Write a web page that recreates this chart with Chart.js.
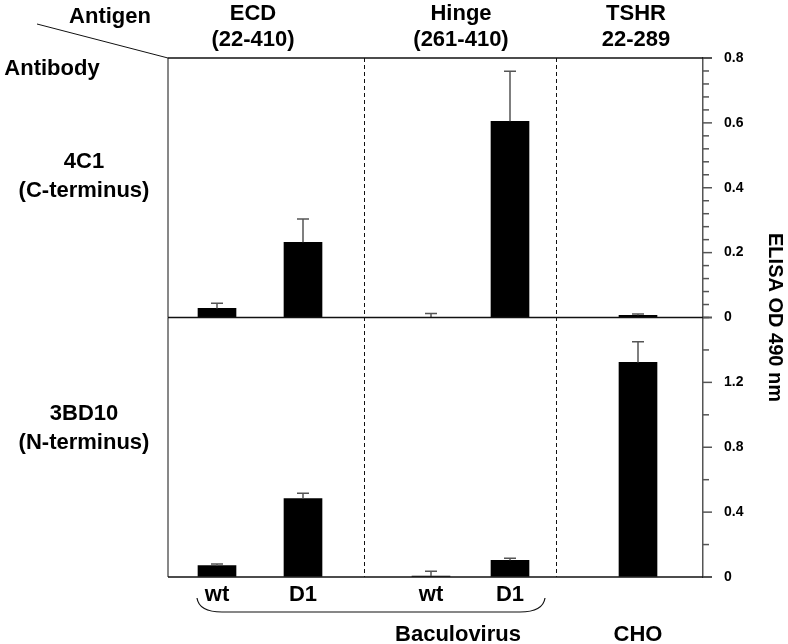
<!DOCTYPE html>
<html>
<head>
<meta charset="utf-8">
<script src="https://cdn.jsdelivr.net/npm/chart.js@4.4.1/dist/chart.umd.min.js"></script>
<style>
  body { margin: 0; background: #fff; }
  canvas { display: block; }
</style>
</head>
<body>
<canvas id="chart" width="788" height="644"></canvas>
<script>
// bar order: ECD wt, ECD D1, Hinge wt, Hinge D1, TSHR 22-289 from CHO
const samples = ['wt', 'D1', 'wt', 'D1', ''];
const antigens = [['ECD', '(22-410)'], ['Hinge', '(261-410)'], ['TSHR', '22-289']];
const antibodies = [['4C1', '(C-terminus)'], ['3BD10', '(N-terminus)']];
const od4C1 = [0.028, 0.232, 0, 0.605, 0.007];
const err4C1 = [0.016, 0.072, 0.012, 0.154, 0.004];
const od3BD10 = [0.07, 0.484, 0.006, 0.103, 1.323];
const err3BD10 = [0.01, 0.033, 0.029, 0.012, 0.127];
const topLabels = [0, 0.2, 0.4, 0.6, 0.8];
const bottomLabels = [0, 0.4, 0.8, 1.2];

// layout, in px from the left frame edge
const slots = [49, 135, 263, 342, 470];
const dividers = [196, 388];
const headerX = [85, 293, 468];

const FONT = '"Liberation Sans", Arial, sans-serif';

function pick(labels) {
  return function(v) {
    const hit = labels.find(l => Math.abs(l - v) < 1e-6);
    return hit === undefined ? '' : String(hit);
  };
}

function yAxis(max, step, labels) {
  return {
    type: 'linear',
    position: 'right',
    stack: 'panels',
    stackWeight: 1,
    min: 0,
    max: max,
    border: { display: true, color: '#555', width: 1.5 },
    grid: { drawOnChartArea: false, tickLength: 9, tickColor: 'rgba(0,0,0,0)' },
    ticks: {
      stepSize: step,
      autoSkip: false,
      padding: 12,
      color: '#000',
      font: { family: FONT, size: 14, weight: 'bold' },
      callback: pick(labels)
    },
    afterFit: s => { s.width = 85 }
  };
}

const decor = {
  id: 'decor',
  afterDatasetsDraw(chart) {
    const ctx = chart.ctx;
    const x = chart.scales.x;
    const yT = chart.scales.yTop;
    const yB = chart.scales.yBot;
    const left = chart.chartArea.left, right = chart.chartArea.right;
    const top = yT.getPixelForValue(0.8), mid = yT.getPixelForValue(0), bot = yB.getPixelForValue(0);

    // error bars (upper half only)
    ctx.save();
    ctx.strokeStyle = '#555';
    ctx.lineWidth = 1.5;
    [[od4C1, err4C1, yT], [od3BD10, err3BD10, yB]].forEach(([vals, errs, ys]) => {
      vals.forEach((v, i) => {
        const px = x.getPixelForValue(slots[i]);
        const y0 = ys.getPixelForValue(v), y1 = ys.getPixelForValue(v + errs[i]);
        ctx.beginPath();
        ctx.moveTo(px, y0); ctx.lineTo(px, y1);
        ctx.moveTo(px - 6, y1); ctx.lineTo(px + 6, y1);
        ctx.stroke();
      });
    });
    ctx.restore();

    ctx.save();
    // frame
    ctx.strokeStyle = '#111';
    ctx.lineWidth = 1.5;
    [top, mid, bot].forEach(y => {
      ctx.beginPath(); ctx.moveTo(left, y); ctx.lineTo(right + 9, y); ctx.stroke();
    });
    ctx.lineWidth = 1;
    ctx.beginPath(); ctx.moveTo(left, top); ctx.lineTo(left, bot); ctx.stroke();
    ctx.setLineDash([4, 3]);
    dividers.forEach(d => {
      const px = Math.round(x.getPixelForValue(d)) + 0.5;
      ctx.beginPath(); ctx.moveTo(px, top); ctx.lineTo(px, bot); ctx.stroke();
    });
    ctx.setLineDash([]);

    // axis ticks
    ctx.strokeStyle = '#555';
    ctx.lineWidth = 1.5;
    [[yT, topLabels], [yB, bottomLabels]].forEach(([s, labels]) => {
      s.ticks.forEach(t => {
        const major = labels.some(l => Math.abs(l - t.value) < 1e-6);
        const py = s.getPixelForValue(t.value);
        ctx.beginPath(); ctx.moveTo(right, py); ctx.lineTo(right + (major ? 9 : 6), py); ctx.stroke();
      });
    });

    // diagonal corner line
    ctx.strokeStyle = '#111';
    ctx.lineWidth = 1;
    ctx.beginPath(); ctx.moveTo(37, 24); ctx.lineTo(left, top); ctx.stroke();

    // texts
    ctx.fillStyle = '#000';
    ctx.font = 'bold 22px ' + FONT;
    ctx.textAlign = 'center';
    ctx.textBaseline = 'alphabetic';
    ctx.fillText('Antigen', 110, 23);
    ctx.fillText('Antibody', 52, 75);
    antigens.forEach((a, i) => {
      const px = left + headerX[i];
      ctx.fillText(a[0], px, 20);
      ctx.fillText(a[1], px, 46);
    });
    antibodies.forEach((a, i) => {
      const base = i === 0 ? 168 : 420;
      ctx.fillText(a[0], 84, base);
      ctx.fillText(a[1], 84, base + 29);
    });
    samples.forEach((s, i) => {
      if (s) ctx.fillText(s, x.getPixelForValue(slots[i]), 601);
    });
    ctx.fillText('Baculovirus', 458, 641);
    ctx.fillText('CHO', x.getPixelForValue(slots[4]), 641);

    // bracket under the baculovirus samples
    ctx.lineWidth = 1.2;
    ctx.beginPath();
    ctx.moveTo(197, 598);
    ctx.quadraticCurveTo(199, 612, 222, 612);
    ctx.lineTo(520, 612);
    ctx.quadraticCurveTo(543, 612, 545, 598);
    ctx.stroke();

    // y title
    ctx.font = 'bold 20px ' + FONT;
    ctx.translate(775, (top + bot) / 2);
    ctx.rotate(Math.PI / 2);
    ctx.textBaseline = 'middle';
    ctx.fillText('ELISA OD 490 nm', 0, 0);
    ctx.restore();
  }
};

new Chart(document.getElementById('chart'), {
  type: 'bar',
  data: {
    datasets: [
      {
        label: '4C1',
        data: slots.map((s, i) => ({ x: s, y: od4C1[i] })),
        yAxisID: 'yTop',
        backgroundColor: '#000',
        barThickness: 38,
        grouped: false
      },
      {
        label: '3BD10',
        data: slots.map((s, i) => ({ x: s, y: od3BD10[i] })),
        yAxisID: 'yBot',
        backgroundColor: '#000',
        barThickness: 38,
        grouped: false
      }
    ]
  },
  options: {
    responsive: false,
    animation: false,
    layout: { padding: { left: 168, top: 58, bottom: 67, right: 0 } },
    plugins: { legend: { display: false }, tooltip: { enabled: false } },
    scales: {
      x: { type: 'linear', display: false, offset: false, min: 0, max: 535 },
      yTop: yAxis(0.8, 0.04, topLabels),
      yBot: yAxis(1.6, 0.2, bottomLabels)
    }
  },
  plugins: [decor]
});
</script>
</body>
</html>
